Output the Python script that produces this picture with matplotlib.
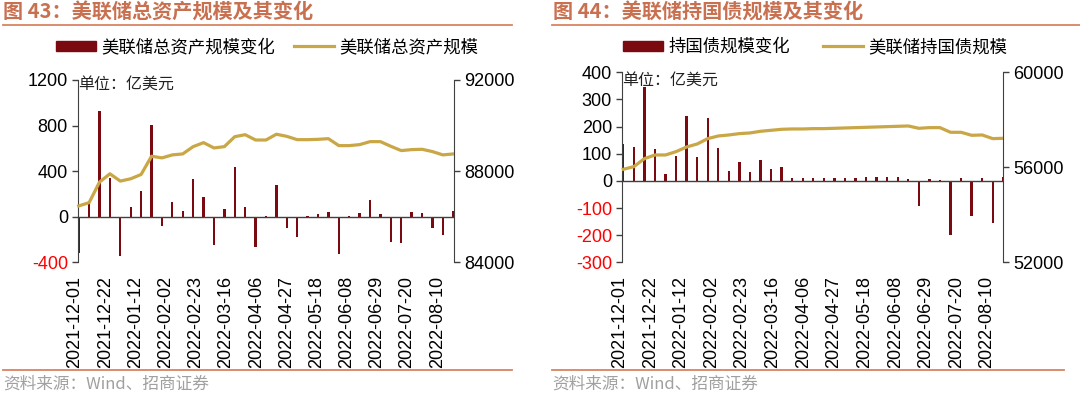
import numpy as np
import matplotlib
matplotlib.use("Agg")
import matplotlib.pyplot as plt
from matplotlib.lines import Line2D
from matplotlib.patches import Patch

plt.rcParams['font.family'] = ['Liberation Sans', 'Noto Sans CJK SC', 'DejaVu Sans']
CJK = ['Noto Sans CJK SC', 'DejaVu Sans']

# 周度日期（2021-12-01 至 2022-08-10）
dates = ['2021-12-01', '2021-12-08', '2021-12-15', '2021-12-22', '2021-12-29',
         '2022-01-05', '2022-01-12', '2022-01-19', '2022-01-26', '2022-02-02',
         '2022-02-09', '2022-02-16', '2022-02-23', '2022-03-02', '2022-03-09',
         '2022-03-16', '2022-03-23', '2022-03-30', '2022-04-06', '2022-04-13',
         '2022-04-20', '2022-04-27', '2022-05-04', '2022-05-11', '2022-05-18',
         '2022-05-25', '2022-06-01', '2022-06-08', '2022-06-15', '2022-06-22',
         '2022-06-29', '2022-07-06', '2022-07-13', '2022-07-20', '2022-07-27',
         '2022-08-03', '2022-08-10']

# 图43 美联储总资产
assets_chg = [-320, 120, 930, 336, -342, 85, 228, 801, -79, 126,
              50, 333, 175, -249, 64, 439, 85, -263, 9, 281,
              -102, -175, 9, 20, 41, -328, 9, 32, 143, 20,
              -219, -228, 44, 32, -102, -164, 53]
assets = [86473, 86618, 87520, 87884, 87564, 87665, 87855, 88654, 88582, 88713,
          88756, 89076, 89251, 89018, 89076, 89513, 89600, 89367, 89367, 89620,
          89527, 89382, 89382, 89396, 89425, 89120, 89120, 89164, 89295, 89295,
          89091, 88902, 88945, 88960, 88858, 88713, 88756]

# 图44 美联储持有国债
tsy_chg = [134, 123, 344, 117, 26, 92, 238, 88, 232, 120,
           38, 69, 33, 76, 44, 50, 11, 10, 11, 11,
           10, 10, 11, 15, 15, 13, 15, 6, -92, 7,
           5, -200, 12, -129, 12, -156, 15]
tsy = [55916, 56028, 56365, 56519, 56519, 56660, 56856, 56982, 57207, 57319,
       57361, 57418, 57446, 57516, 57558, 57600, 57614, 57614, 57628, 57628,
       57642, 57656, 57670, 57684, 57698, 57712, 57726, 57740, 57642, 57670,
       57670, 57474, 57474, 57347, 57361, 57207, 57221]

BAR = '#7B0A10'
LINE = '#C9A646'
TITLE_C = '#C8704F'
RULE_C = '#D8845F'
SPINE_C = '#404040'

fig = plt.figure(figsize=(10.8, 3.97), dpi=100)
x = np.arange(len(dates))
tick_idx = np.arange(0, len(dates), 3)


def panel(rect, chg, lvl, ylim_l, yt_l, ylim_r, yt_r, xlim, spine_x):
    ax = fig.add_axes(rect)
    for s in ['top', 'bottom', 'right']:
        ax.spines[s].set_visible(False)
    ax.spines['left'].set_color(SPINE_C)
    ax.spines['left'].set_position(('data', spine_x))

    ax.bar(x, chg, width=0.22, color=BAR, zorder=2)
    ax.plot([spine_x, xlim[1]], [0, 0], color=SPINE_C, lw=1, zorder=3)
    ax.set_xlim(*xlim)
    ax.set_ylim(*ylim_l)
    ax.set_yticks(yt_l)
    ax.set_yticklabels([str(v) for v in yt_l])
    ax.set_xticks(tick_idx * 0.967 - 0.35)
    ax.set_xticklabels([dates[i] for i in tick_idx], rotation=90)
    ax.tick_params(axis='x', length=0, pad=10, labelsize=13)
    ax.tick_params(axis='y', length=4, width=1, color=SPINE_C, labelsize=13, pad=3)
    for lab, v in zip(ax.get_yticklabels(), yt_l):
        lab.set_color('#FF0000' if v < 0 else 'black')

    ax2 = ax.twinx()
    ax2.plot(x, lvl, color=LINE, lw=2.3, zorder=4)
    ax2.set_xlim(*xlim)
    ax2.set_ylim(*ylim_r)
    ax2.set_yticks(yt_r)
    ax2.set_yticklabels([str(v) for v in yt_r])
    ax2.tick_params(axis='y', length=4, width=1, color=SPINE_C, labelsize=13, pad=3)
    for s in ['top', 'bottom', 'left']:
        ax2.spines[s].set_visible(False)
    ax2.spines['right'].set_color(SPINE_C)
    return ax


ax1 = panel([73.5 / 1080, 0.3393, 380.8 / 1080, 0.4592], assets_chg, assets,
            (-400, 1200), [-400, 0, 400, 800, 1200],
            (84000, 92000), [84000, 88000, 92000], (-0.5, 36.1), -0.1)
ax1.text(-0.05, 1160, '单位：亿美元', family=CJK,
         fontsize=11.5, va='center', ha='left', color='#222222')

ax3 = panel([617.5 / 1080, 0.3393, 385.8 / 1080, 0.4786], tsy_chg, tsy,
            (-300, 400), [-300, -200, -100, 0, 100, 200, 300, 400],
            (52000, 60000), [52000, 56000, 60000], (-0.55, 36.0), -0.15)
ax3.text(-0.1, 370, '单位：亿美元', family=CJK,
         fontsize=11.5, va='center', ha='left', color='#222222')

# 标题、分隔线、图例、来源
titles = [(0.003, '图 43：美联储总资产规模及其变化'), (0.512, '图 44：美联储持国债规模及其变化')]
for xpos, t in titles:
    fig.text(xpos, 1 - 12 / 397, t, family=CJK, fontsize=14.5, fontweight='bold',
             color=TITLE_C, va='center', ha='left')

for x0, x1 in [(0.003, 0.474), (0.511, 1.0)]:
    fig.add_artist(Line2D([x0, x1], [1 - 25 / 397] * 2, color=RULE_C, lw=1.3))
for x0, x1 in [(0.003, 0.474), (0.511, 0.985)]:
    fig.add_artist(Line2D([x0, x1], [1 - 370 / 397] * 2, color=RULE_C, lw=1.3))

for xpos in [0.003, 0.511]:
    fig.text(xpos, 1 - 384 / 397, '资料来源：Wind、招商证券', family=CJK, fontsize=12,
             color='#A0A0A0', va='center', ha='left')

legends = [(267 / 1080, '美联储总资产规模变化', '美联储总资产规模', 1.1),
           (815 / 1080, '持国债规模变化', '美联储持国债规模', 1.9)]
for cx, l1, l2, cs in legends:
    handles = [Patch(facecolor=BAR, edgecolor=BAR), Line2D([], [], color=LINE, lw=2.3)]
    fig.legend(handles, [l1, l2], loc='center', bbox_to_anchor=(cx, 1 - 47 / 397),
               ncol=2, frameon=False, prop={'family': CJK, 'size': 12.5},
               handlelength=2.3, handleheight=0.5, handletextpad=0.3,
               columnspacing=cs, borderpad=0)

fig.savefig('out.png', dpi=100)
